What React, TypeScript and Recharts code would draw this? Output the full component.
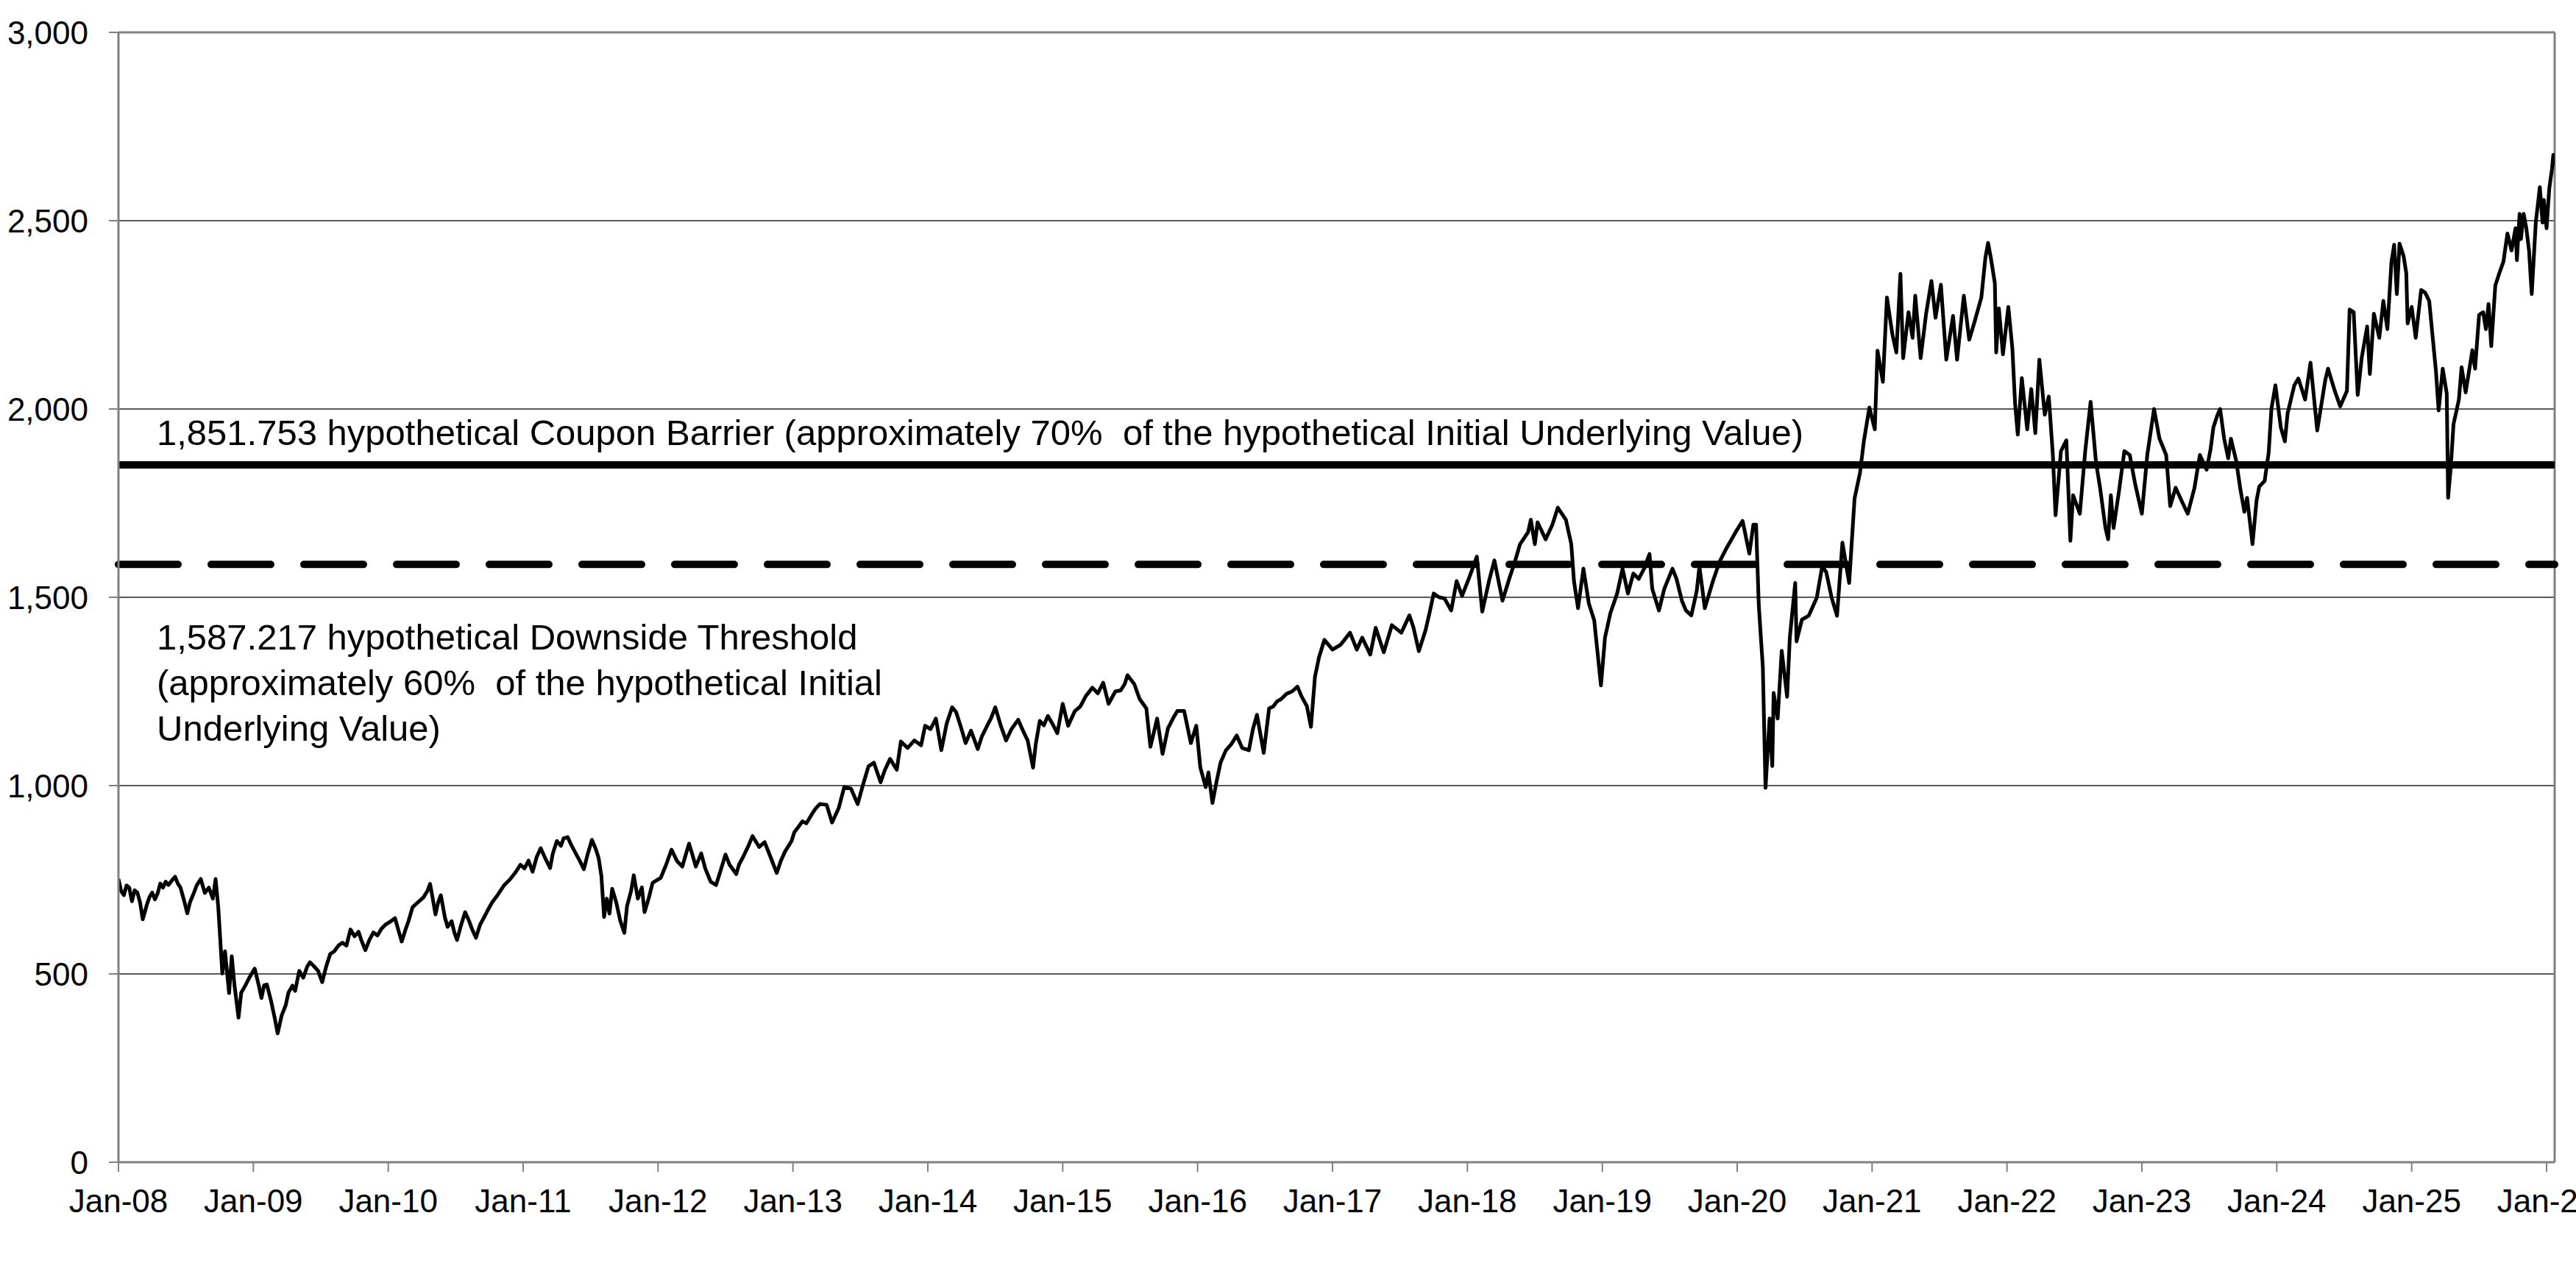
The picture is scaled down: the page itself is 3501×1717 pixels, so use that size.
import React from "react";
import { LineChart, Line, XAxis, YAxis, CartesianGrid, ReferenceLine } from "recharts";

// ---- data: [decimal year, level] ----
const seg2008to2011: [number, number][] = [
  [2008.0, 752], [2008.02, 720], [2008.04, 709], [2008.06, 735], [2008.08, 729], [2008.1, 693], [2008.12, 722],
  [2008.14, 716], [2008.16, 690], [2008.18, 645], [2008.21, 683], [2008.23, 704], [2008.25, 716], [2008.27, 698],
  [2008.29, 713], [2008.31, 740], [2008.33, 729], [2008.35, 745], [2008.37, 736], [2008.4, 750], [2008.42, 758],
  [2008.44, 740], [2008.46, 729], [2008.49, 690], [2008.51, 661], [2008.53, 690], [2008.56, 716], [2008.58, 735],
  [2008.61, 752], [2008.64, 715], [2008.67, 729], [2008.7, 700], [2008.72, 752], [2008.74, 677], [2008.77, 501],
  [2008.79, 560], [2008.82, 449], [2008.84, 547], [2008.86, 470], [2008.89, 384], [2008.91, 450], [2008.94, 469],
  [2008.97, 490], [2009.01, 514], [2009.04, 470], [2009.06, 436], [2009.08, 470], [2009.1, 472], [2009.13, 430],
  [2009.16, 380], [2009.18, 342], [2009.21, 390], [2009.24, 417], [2009.26, 450], [2009.29, 469], [2009.31, 455],
  [2009.34, 508], [2009.37, 490], [2009.4, 520], [2009.42, 531], [2009.45, 520], [2009.48, 508], [2009.51, 478],
  [2009.54, 520], [2009.57, 553], [2009.6, 560], [2009.63, 575], [2009.66, 583], [2009.69, 575], [2009.72, 618],
  [2009.75, 600], [2009.78, 612], [2009.8, 590], [2009.83, 563], [2009.86, 590], [2009.89, 610], [2009.92, 602],
  [2009.95, 620], [2009.98, 631], [2010.02, 640], [2010.05, 648], [2010.08, 610], [2010.1, 586], [2010.13, 620],
  [2010.15, 640], [2010.18, 677], [2010.22, 690], [2010.26, 703], [2010.29, 720], [2010.31, 739], [2010.33, 700],
  [2010.35, 658], [2010.37, 690], [2010.39, 709], [2010.42, 650], [2010.44, 625], [2010.47, 640], [2010.49, 610],
  [2010.51, 590], [2010.54, 630], [2010.57, 664], [2010.6, 640], [2010.62, 620], [2010.65, 596], [2010.68, 630],
  [2010.71, 650], [2010.73, 664], [2010.77, 690], [2010.81, 709], [2010.83, 720], [2010.86, 736], [2010.9, 750],
  [2010.94, 768], [2010.98, 790], [2011.01, 780], [2011.04, 801], [2011.07, 771], [2011.1, 810], [2011.13, 834],
  [2011.16, 810], [2011.2, 781], [2011.22, 820], [2011.25, 853], [2011.28, 840], [2011.3, 860], [2011.33, 863],
  [2011.36, 840], [2011.39, 820], [2011.42, 800], [2011.45, 778], [2011.48, 820], [2011.51, 856], [2011.54, 830],
  [2011.56, 807], [2011.58, 760], [2011.6, 651], [2011.62, 700], [2011.64, 660], [2011.66, 726], [2011.69, 690],
  [2011.72, 641], [2011.75, 609], [2011.77, 680], [2011.8, 720], [2011.82, 762], [2011.85, 700], [2011.88, 730],
  [2011.9, 664], [2011.93, 700], [2011.96, 742],
];

const seg2012to2015: [number, number][] = [
  [2012.02, 755], [2012.06, 790], [2012.1, 830], [2012.14, 800], [2012.18, 785], [2012.2, 810], [2012.23, 846],
  [2012.26, 810], [2012.28, 785], [2012.32, 820], [2012.35, 780], [2012.39, 745], [2012.43, 736], [2012.46, 770],
  [2012.5, 817], [2012.53, 790], [2012.58, 765], [2012.6, 790], [2012.63, 810], [2012.67, 840], [2012.7, 866],
  [2012.75, 837], [2012.79, 850], [2012.83, 814], [2012.88, 768], [2012.91, 800], [2012.94, 824], [2012.99, 853],
  [2013.01, 876], [2013.04, 890], [2013.07, 905], [2013.1, 900], [2013.14, 924], [2013.17, 940], [2013.2, 951],
  [2013.25, 949], [2013.29, 902], [2013.34, 941], [2013.38, 996], [2013.43, 992], [2013.48, 951], [2013.52, 1003],
  [2013.56, 1051], [2013.6, 1061], [2013.65, 1009], [2013.68, 1040], [2013.72, 1071], [2013.77, 1042], [2013.8, 1117],
  [2013.85, 1100], [2013.9, 1120], [2013.95, 1107], [2013.98, 1159], [2014.02, 1150], [2014.06, 1178], [2014.1, 1094],
  [2014.14, 1165], [2014.18, 1208], [2014.21, 1195], [2014.25, 1150], [2014.28, 1113], [2014.32, 1146], [2014.37, 1097],
  [2014.4, 1130], [2014.44, 1159], [2014.47, 1180], [2014.5, 1208], [2014.54, 1160], [2014.58, 1120], [2014.62, 1150],
  [2014.67, 1175], [2014.7, 1150], [2014.74, 1120], [2014.78, 1048], [2014.8, 1110], [2014.83, 1172], [2014.86, 1160],
  [2014.89, 1185], [2014.93, 1160], [2014.96, 1139], [2015.0, 1217], [2015.04, 1159], [2015.09, 1198], [2015.13, 1210],
  [2015.17, 1237], [2015.22, 1260], [2015.26, 1245], [2015.3, 1273], [2015.34, 1217], [2015.39, 1250], [2015.43, 1253],
  [2015.46, 1270], [2015.48, 1293], [2015.53, 1270], [2015.57, 1230], [2015.62, 1205], [2015.65, 1103], [2015.7, 1178],
  [2015.74, 1084], [2015.78, 1152], [2015.82, 1180], [2015.85, 1198],
];

const seg2016to2019: [number, number][] = [
  [2015.9, 1198], [2015.95, 1113], [2015.99, 1159], [2016.02, 1048], [2016.06, 996], [2016.08, 1035], [2016.11, 954],
  [2016.14, 1010], [2016.17, 1061], [2016.21, 1094], [2016.25, 1110], [2016.29, 1133], [2016.33, 1100], [2016.38, 1094],
  [2016.41, 1150], [2016.44, 1188], [2016.49, 1087], [2016.53, 1205], [2016.56, 1210], [2016.59, 1224], [2016.62, 1230],
  [2016.66, 1244], [2016.7, 1250], [2016.74, 1263], [2016.77, 1237], [2016.81, 1211], [2016.84, 1156], [2016.87, 1289],
  [2016.9, 1341], [2016.94, 1387], [2017.0, 1361], [2017.06, 1374], [2017.13, 1406], [2017.18, 1361], [2017.22, 1393],
  [2017.28, 1348], [2017.32, 1419], [2017.38, 1354], [2017.44, 1426], [2017.51, 1406], [2017.57, 1452], [2017.6, 1420],
  [2017.64, 1357], [2017.69, 1413], [2017.72, 1460], [2017.75, 1510], [2017.79, 1500], [2017.83, 1497], [2017.88, 1465],
  [2017.92, 1543], [2017.96, 1504], [2018.01, 1549], [2018.07, 1608], [2018.11, 1462], [2018.16, 1543], [2018.2, 1598],
  [2018.26, 1491], [2018.31, 1549], [2018.35, 1592], [2018.39, 1641], [2018.45, 1673], [2018.47, 1706], [2018.5, 1641],
  [2018.52, 1699], [2018.58, 1654], [2018.63, 1693], [2018.67, 1738], [2018.73, 1706], [2018.77, 1641], [2018.79, 1543],
  [2018.82, 1471], [2018.86, 1576], [2018.9, 1484], [2018.94, 1439], [2018.99, 1266], [2019.02, 1393], [2019.06, 1458],
  [2019.11, 1510], [2019.15, 1576], [2019.19, 1510], [2019.23, 1563], [2019.27, 1549], [2019.31, 1576], [2019.35, 1615],
  [2019.37, 1523], [2019.42, 1465], [2019.46, 1523], [2019.52, 1576], [2019.55, 1549], [2019.59, 1491], [2019.62, 1465],
  [2019.66, 1452], [2019.7, 1517], [2019.72, 1582], [2019.76, 1471], [2019.82, 1543], [2019.87, 1595],
];

const seg2020to2023: [number, number][] = [
  [2019.92, 1630], [2019.99, 1674], [2020.04, 1703], [2020.09, 1616], [2020.12, 1693], [2020.14, 1693], [2020.16, 1479],
  [2020.19, 1315], [2020.21, 994], [2020.24, 1178], [2020.26, 1052], [2020.27, 1246], [2020.3, 1178], [2020.33, 1358],
  [2020.37, 1236], [2020.39, 1393], [2020.43, 1538], [2020.44, 1383], [2020.48, 1441], [2020.53, 1451], [2020.59, 1499],
  [2020.63, 1582], [2020.66, 1567], [2020.7, 1499], [2020.74, 1451], [2020.78, 1645], [2020.83, 1538], [2020.87, 1762],
  [2020.91, 1830], [2020.94, 1917], [2020.98, 2004], [2021.02, 1946], [2021.04, 2155], [2021.08, 2072], [2021.11, 2296],
  [2021.15, 2199], [2021.18, 2150], [2021.21, 2359], [2021.23, 2135], [2021.27, 2257], [2021.3, 2189], [2021.32, 2301],
  [2021.36, 2135], [2021.4, 2252], [2021.44, 2340], [2021.47, 2242], [2021.51, 2330], [2021.55, 2131], [2021.6, 2247],
  [2021.63, 2131], [2021.68, 2301], [2021.72, 2184], [2021.76, 2232], [2021.81, 2296], [2021.84, 2402], [2021.86, 2441],
  [2021.88, 2402], [2021.91, 2334], [2021.92, 2150], [2021.94, 2267], [2021.97, 2145], [2022.01, 2271], [2022.04, 2160],
  [2022.06, 2014], [2022.08, 1932], [2022.11, 2082], [2022.15, 1946], [2022.18, 2053], [2022.21, 1936], [2022.24, 2131],
  [2022.28, 1985], [2022.31, 2033], [2022.34, 1878], [2022.36, 1718], [2022.4, 1888], [2022.44, 1917], [2022.47, 1650],
  [2022.49, 1771], [2022.54, 1722], [2022.58, 1888], [2022.62, 2019], [2022.66, 1858], [2022.69, 1791], [2022.73, 1684],
  [2022.75, 1654], [2022.77, 1771], [2022.79, 1684], [2022.83, 1781], [2022.87, 1888], [2022.91, 1878], [2022.95, 1801],
  [2023.0, 1722], [2023.04, 1878], [2023.09, 2000], [2023.13, 1922], [2023.18, 1878], [2023.21, 1742], [2023.25, 1791],
  [2023.3, 1752], [2023.34, 1722], [2023.39, 1791], [2023.43, 1878], [2023.48, 1839],
];

const seg2023to2026: [number, number][] = [
  [2023.51, 1895], [2023.53, 1951], [2023.56, 1984], [2023.58, 2000], [2023.61, 1921], [2023.64, 1869], [2023.66, 1921],
  [2023.7, 1861], [2023.73, 1787], [2023.76, 1727], [2023.78, 1764], [2023.82, 1641], [2023.85, 1757], [2023.87, 1794],
  [2023.91, 1809], [2023.94, 1884], [2023.96, 2000], [2023.99, 2063], [2024.03, 1951], [2024.06, 1914], [2024.08, 1988],
  [2024.13, 2063], [2024.16, 2081], [2024.21, 2025], [2024.25, 2123], [2024.3, 1943], [2024.36, 2078], [2024.38, 2107],
  [2024.43, 2048], [2024.47, 2007], [2024.52, 2048], [2024.54, 2264], [2024.57, 2257], [2024.6, 2037], [2024.63, 2137],
  [2024.67, 2219], [2024.69, 2093], [2024.72, 2253], [2024.76, 2189], [2024.79, 2287], [2024.82, 2212], [2024.85, 2391],
  [2024.87, 2436], [2024.89, 2305], [2024.91, 2439], [2024.94, 2406], [2024.96, 2361], [2024.97, 2227], [2025.0, 2271],
  [2025.03, 2189], [2025.07, 2316], [2025.1, 2309], [2025.13, 2287], [2025.15, 2212], [2025.18, 2100], [2025.2, 1996],
  [2025.23, 2107], [2025.26, 2041], [2025.27, 1764], [2025.29, 1846], [2025.31, 1959], [2025.35, 2025], [2025.37, 2111],
  [2025.4, 2044], [2025.45, 2156], [2025.47, 2107], [2025.5, 2250], [2025.53, 2257], [2025.55, 2212], [2025.57, 2279],
  [2025.59, 2167], [2025.62, 2328], [2025.65, 2361], [2025.68, 2391], [2025.71, 2466], [2025.74, 2421], [2025.77, 2480],
  [2025.78, 2395], [2025.8, 2518], [2025.81, 2451], [2025.83, 2518], [2025.85, 2480], [2025.87, 2421], [2025.89, 2305],
  [2025.92, 2495], [2025.95, 2589], [2025.97, 2495], [2025.98, 2555], [2026.0, 2480], [2026.02, 2585], [2026.04, 2637],
  [2026.05, 2675], [2026.06, 2645],
];

const tickYears = [2008, 2009, 2010, 2011, 2012, 2013, 2014, 2015, 2016, 2017, 2018, 2019, 2020, 2021, 2022, 2023, 2024, 2025, 2026];
const tickLabels = ["Jan-08", "Jan-09", "Jan-10", "Jan-11", "Jan-12", "Jan-13", "Jan-14", "Jan-15", "Jan-16", "Jan-17", "Jan-18", "Jan-19", "Jan-20", "Jan-21", "Jan-22", "Jan-23", "Jan-24", "Jan-25", "Jan-26"];
const yTicks = [0, 500, 1000, 1500, 2000, 2500, 3000];

const COUPON_BARRIER = 1851.753;
const DOWNSIDE_THRESHOLD = 1587.217;
const couponText = "1,851.753 hypothetical Coupon Barrier (approximately 70%  of the hypothetical Initial Underlying Value)";
const downsideText = [
  "1,587.217 hypothetical Downside Threshold",
  "(approximately 60%  of the hypothetical Initial",
  "Underlying Value)",
];

const X_MIN = 2008;
const X_MAX = 2026.06;

const data = [...seg2008to2011, ...seg2012to2015, ...seg2016to2019, ...seg2020to2023, ...seg2023to2026].map(
  ([t, v]) => ({ t, v })
);

const FONT = "'Liberation Sans', Arial, Helvetica, sans-serif";
const GRAY = "#808080";

const CouponLabel = (props: any) => {
  const vb = props.viewBox || {};
  return (
    <text x={vb.x + 52} y={vb.y - 27} fontFamily={FONT} fontSize={49} fill="#000" style={{ whiteSpace: "pre" }}>
      {couponText}
    </text>
  );
};

const DownsideLabel = (props: any) => {
  const vb = props.viewBox || {};
  const offs = [116, 178, 240];
  return (
    <g>
      {downsideText.map((s, i) => (
        <text key={i} x={vb.x + 52} y={vb.y + offs[i]} fontFamily={FONT} fontSize={49} fill="#000" style={{ whiteSpace: "pre" }}>
          {s}
        </text>
      ))}
    </g>
  );
};

const tickStyle = { fontSize: 44, fill: "#000", fontFamily: FONT };

export default function App() {
  return (
    <div style={{ position: "absolute", left: 0, top: 0, width: 3501, height: 1717, background: "#fff" }}>
      <LineChart
        width={3501}
        height={1717}
        data={data}
        margin={{ top: 44, right: 29, left: 11, bottom: 17 }}
      >
        <CartesianGrid vertical={false} stroke="#222" strokeWidth={1.5} />
        <XAxis
          dataKey="t"
          type="number"
          domain={[X_MIN, X_MAX]}
          ticks={tickYears}
          interval={0}
          tickFormatter={(v: number) => tickLabels[tickYears.indexOf(v)] ?? ""}
          height={120}
          tickSize={13}
          tickMargin={24}
          tick={tickStyle}
          axisLine={{ stroke: GRAY, strokeWidth: 3 }}
          tickLine={{ stroke: GRAY, strokeWidth: 2 }}
          allowDataOverflow
        />
        <YAxis
          type="number"
          domain={[0, 3000]}
          ticks={yTicks}
          interval={0}
          tickFormatter={(v: number) => v.toLocaleString("en-US")}
          width={150}
          tickSize={13}
          tickMargin={28}
          tick={tickStyle}
          axisLine={{ stroke: GRAY, strokeWidth: 3 }}
          tickLine={{ stroke: GRAY, strokeWidth: 2 }}
        />
        <ReferenceLine y={3000} stroke={GRAY} strokeWidth={3} />
        <ReferenceLine x={X_MAX} stroke={GRAY} strokeWidth={3} />
        <ReferenceLine y={COUPON_BARRIER} stroke="#000" strokeWidth={10} label={CouponLabel} />
        <ReferenceLine
          y={DOWNSIDE_THRESHOLD}
          stroke="#000"
          strokeWidth={10}
          strokeDasharray="81 45"
          strokeLinecap="round"
          label={DownsideLabel}
        />
        <Line
          type="linear"
          dataKey="v"
          stroke="#000"
          strokeWidth={5}
          strokeLinejoin="round"
          dot={false}
          activeDot={false}
          isAnimationActive={false}
        />
      </LineChart>
    </div>
  );
}
